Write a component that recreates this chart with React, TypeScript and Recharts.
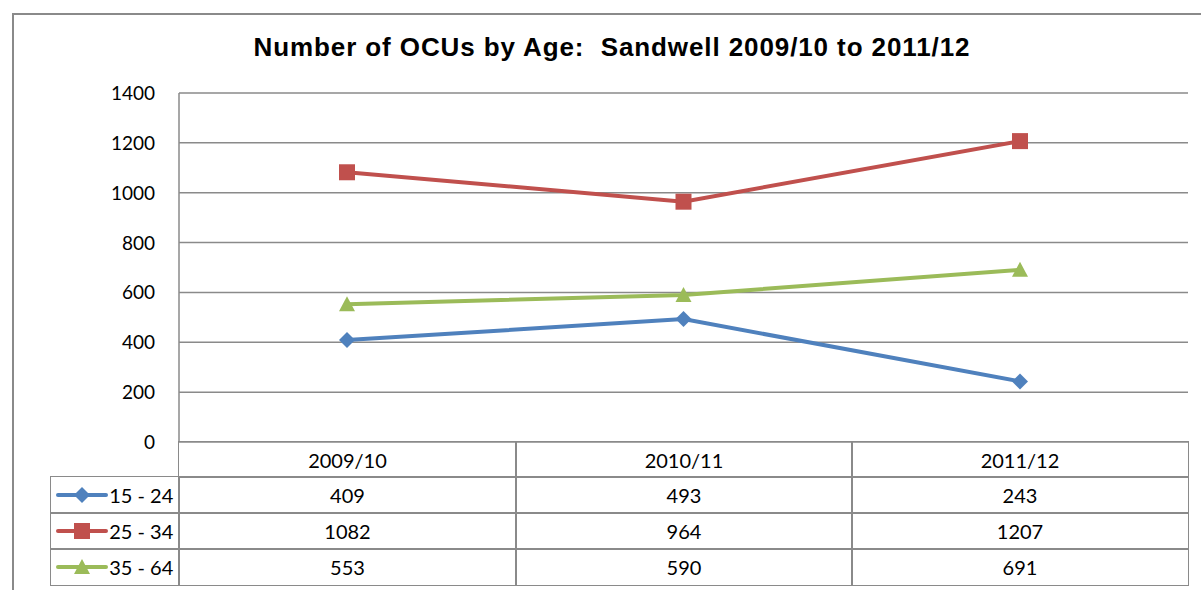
import React from "react";
import { CartesianGrid, Line, LineChart, XAxis, YAxis } from "recharts";

const categories = ["2009/10", "2010/11", "2011/12"];
const age15to24 = [409, 493, 243];
const age25to34 = [1082, 964, 1207];
const age35to64 = [553, 590, 691];
const yTicks = [0, 200, 400, 600, 800, 1000, 1200, 1400];

const series = [
  { key: "a", name: "15 - 24", values: age15to24, color: "#4F81BD", shape: "diamond" },
  { key: "b", name: "25 - 34", values: age25to34, color: "#C0504D", shape: "square" },
  { key: "c", name: "35 - 64", values: age35to64, color: "#9BBB59", shape: "triangle" }
];

const data = categories.map((cat, i) => ({
  cat,
  a: age15to24[i],
  b: age25to34[i],
  c: age35to64[i]
}));

const grey = "#8a8a8a";
const font = "Lato, 'Open Sans', sans-serif";
const bw = 1.5;

const Marker = ({ cx, cy, color, shape }: { cx: number; cy: number; color: string; shape: string }) => {
  const r = 8;
  if (shape === "diamond") {
    return <path d={`M${cx},${cy - r}L${cx + r},${cy}L${cx},${cy + r}L${cx - r},${cy}Z`} fill={color} />;
  }
  if (shape === "square") {
    return <rect x={cx - r} y={cy - r} width={r * 2} height={r * 2} fill={color} />;
  }
  return <path d={`M${cx},${cy - r}L${cx + r},${cy + r - 1}L${cx - r},${cy + r - 1}Z`} fill={color} />;
};

const YTick = (props: any) => (
  <text x={155} y={props.y} dy={7} textAnchor="end" fontFamily={font} fontSize={19} fill="#000">
    {props.payload.value}
  </text>
);

// data table under the plot
const colX = [51, 179, 516, 852, 1188];
const rowY = [442, 477, 513, 549, 585];

const Cell = ({ c, r, text, noBorder }: { c: number; r: number; text?: React.ReactNode; noBorder?: boolean }) => (
  <div
    style={{
      position: "absolute",
      left: colX[c] - bw / 2,
      top: rowY[r] - bw / 2,
      width: colX[c + 1] - colX[c] + bw,
      height: rowY[r + 1] - rowY[r] + bw,
      border: noBorder ? "none" : `${bw}px solid ${grey}`,
      boxSizing: "border-box",
      display: "flex",
      alignItems: "center",
      justifyContent: "center",
      fontFamily: font,
      fontSize: 20,
      color: "#000"
    }}
  >
    {text}
  </div>
);

const LegendKey = ({ s }: { s: (typeof series)[number] }) => (
  <div style={{ display: "flex", alignItems: "center", width: "100%", paddingLeft: 4 }}>
    <svg width={54} height={20}>
      <line x1={3} x2={51} y1={10} y2={10} stroke={s.color} strokeWidth={4} strokeLinecap="round" />
      <Marker cx={27} cy={10} color={s.color} shape={s.shape} />
    </svg>
    <span>{s.name}</span>
  </div>
);

export default function App() {
  return (
    <div
      style={{
        position: "absolute",
        left: 0,
        top: 0,
        width: 1201,
        height: 590,
        overflow: "hidden",
        background: "#fff"
      }}
    >
      <div
        style={{
          position: "absolute",
          left: 12,
          top: 13,
          width: 1260,
          height: 640,
          border: `2px solid ${grey}`
        }}
      />
      <div
        style={{
          position: "absolute",
          left: 12,
          top: 34,
          width: 1200,
          textAlign: "center",
          fontFamily: "'Liberation Sans', Arial, sans-serif",
          fontWeight: "bold",
          fontSize: 26,
          letterSpacing: 0.9,
          lineHeight: "26px",
          whiteSpace: "pre",
          color: "#000"
        }}
      >
        {"Number of OCUs by Age:  Sandwell 2009/10 to 2011/12"}
      </div>
      <div style={{ position: "absolute", left: 0, top: 0 }}>
        <LineChart width={1201} height={590} data={data} margin={{ top: 93, right: 13, bottom: 148, left: 0 }}>
          <CartesianGrid vertical={false} stroke={grey} strokeWidth={1.5} />
          <XAxis
            dataKey="cat"
            padding={{ left: 168, right: 168 }}
            tick={false}
            tickLine={false}
            height={0}
            axisLine={{ stroke: grey, strokeWidth: 1.5 }}
          />
          <YAxis
            domain={[0, 1400]}
            ticks={yTicks}
            width={179}
            tickLine={false}
            tick={<YTick />}
            axisLine={{ stroke: grey, strokeWidth: 1.5 }}
          />
          {series.map((s) => (
            <Line
              key={s.key}
              dataKey={s.key}
              name={s.name}
              stroke={s.color}
              strokeWidth={4}
              dot={(p: any) => <Marker key={`${s.key}-${p.index}`} cx={p.cx} cy={p.cy} color={s.color} shape={s.shape} />}
              activeDot={false}
              isAnimationActive={false}
            />
          ))}
        </LineChart>
      </div>
      <Cell c={0} r={0} noBorder />
      {categories.map((cat, i) => (
        <Cell key={cat} c={i + 1} r={0} text={cat} />
      ))}
      {series.map((s, r) => (
        <React.Fragment key={s.key}>
          <Cell c={0} r={r + 1} text={<LegendKey s={s} />} />
          {s.values.map((v, i) => (
            <Cell key={i} c={i + 1} r={r + 1} text={v} />
          ))}
        </React.Fragment>
      ))}
    </div>
  );
}
